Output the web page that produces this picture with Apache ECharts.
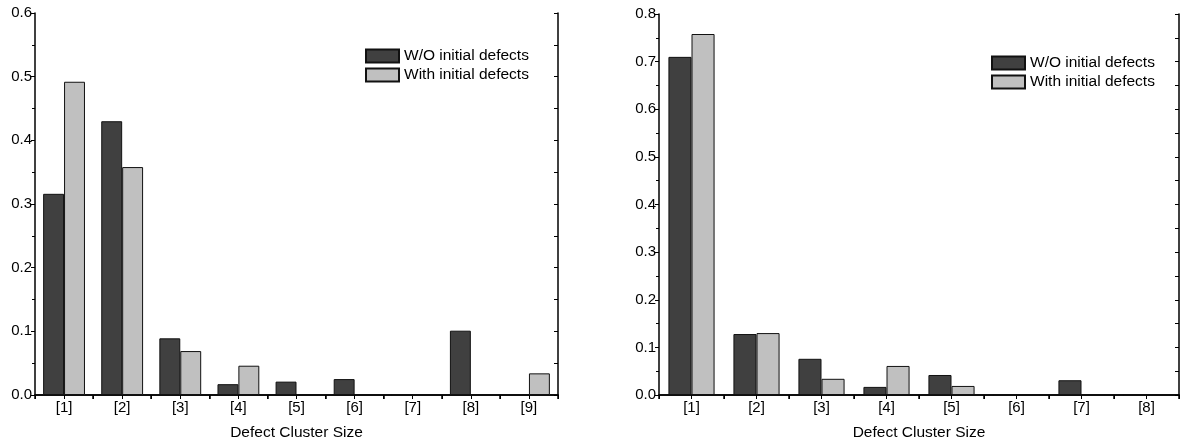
<!DOCTYPE html>
<html>
<head>
<meta charset="utf-8">
<script src="https://cdn.jsdelivr.net/npm/echarts@6/dist/echarts.min.js"></script>
<style>
html, body { margin: 0; padding: 0; background: #fff; }
#main { width: 1183px; height: 443px; }
</style>
</head>
<body>
<div id="main"></div>
<script>
// 左图数据
var leftSizes = ['[1]', '[2]', '[3]', '[4]', '[5]', '[6]', '[7]', '[8]', '[9]']
var leftWithout = [0.316, 0.430, 0.089, 0.017, 0.021, 0.025, 0, 0.101, 0]
var leftWith = [0.492, 0.358, 0.069, 0.046, 0, 0, 0, 0, 0.034]

// 右图数据
var rightSizes = ['[1]', '[2]', '[3]', '[4]', '[5]', '[6]', '[7]', '[8]']
var rightWithout = [0.710, 0.128, 0.076, 0.017, 0.042, 0, 0.031, 0]
var rightWith = [0.758, 0.130, 0.034, 0.061, 0.019, 0, 0, 0]

var seriesNames = ['W/O initial defects', 'With initial defects']
var axisName = 'Defect Cluster Size'
var leftMax = 0.6
var rightMax = 0.8

var font = 'Liberation Sans, Arial, sans-serif'
var black = '#000'

var bottomAxis = function(grid, cats) {
    return {
        gridIndex: grid,
        type: 'category',
        position: 'bottom',
        data: cats,
        axisLine: { show: true, lineStyle: { color: black, width: 1.5 } },
        axisTick: { show: true, length: 4, lineStyle: { color: black, width: 1.5 } },
        axisLabel: { color: black, fontSize: 15, fontFamily: font, margin: 5 },
        splitLine: { show: false },
        name: axisName,
        nameLocation: 'middle',
        nameGap: 30,
        nameTextStyle: { color: black, fontSize: 15.5, fontFamily: font }
    }
}

var topAxis = function(grid, n) {
    return {
        gridIndex: grid,
        type: 'value',
        position: 'top',
        min: 0,
        max: n,
        interval: 0.5,
        axisLine: { show: true, lineStyle: { color: black, width: 1.5 } },
        axisTick: { show: true, inside: true, length: 4, lineStyle: { color: black } },
        axisLabel: { show: false },
        splitLine: { show: false }
    }
}

var leftAxis = function(grid, max) {
    return {
        gridIndex: grid,
        type: 'value',
        position: 'left',
        min: 0,
        max: max,
        interval: 0.1,
        axisLine: { show: true, lineStyle: { color: black, width: 1.5 } },
        axisTick: { show: true, length: 4, lineStyle: { color: black } },
        minorTick: { show: true, splitNumber: 2, length: 3, lineStyle: { color: black } },
        axisLabel: {
            color: black, fontSize: 15, fontFamily: font, margin: 3,
            formatter: function(v) { return v.toFixed(1) }
        },
        splitLine: { show: false }
    }
}

var rightAxis = function(grid, max) {
    return {
        gridIndex: grid,
        type: 'value',
        position: 'right',
        min: 0,
        max: max,
        interval: 0.05,
        axisLine: { show: true, lineStyle: { color: black, width: 1.5 } },
        axisTick: { show: true, inside: true, length: 4, lineStyle: { color: black } },
        axisLabel: { show: false },
        splitLine: { show: false }
    }
}

var barSeries = function(name, data, grid, color, gap) {
    return {
        name: name,
        type: 'bar',
        xAxisIndex: grid * 2,
        yAxisIndex: grid * 2,
        data: data,
        barGap: '0%',
        barCategoryGap: gap,
        itemStyle: { color: color, borderColor: '#111', borderWidth: 1 }
    }
}

var legendAt = function(left, top) {
    return {
        orient: 'vertical',
        left: left,
        top: top,
        padding: 0,
        itemGap: 3,
        itemWidth: 33,
        itemHeight: 13,
        icon: 'rect',
        data: seriesNames,
        textStyle: { color: black, fontSize: 15.5, fontFamily: font, lineHeight: 13 }
    }
}

var mychart = echarts.init(document.getElementById('main'))
mychart.setOption({
    animation: false,
    backgroundColor: '#fff',
    grid: [
        { left: 35, top: 13, width: 523, height: 382, containLabel: false, outerBoundsMode: 'none' },
        { left: 659, top: 14, width: 520, height: 381, containLabel: false, outerBoundsMode: 'none' }
    ],
    legend: [legendAt(365, 48), legendAt(991, 55)],
    xAxis: [
        bottomAxis(0, leftSizes), topAxis(0, leftSizes.length),
        bottomAxis(1, rightSizes), topAxis(1, rightSizes.length)
    ],
    yAxis: [
        leftAxis(0, leftMax), rightAxis(0, leftMax),
        leftAxis(1, rightMax), rightAxis(1, rightMax)
    ],
    series: [
        barSeries(seriesNames[0], leftWithout, 0, '#404040', '28%'),
        barSeries(seriesNames[1], leftWith, 0, '#c0c0c0', '28%'),
        barSeries(seriesNames[0], rightWithout, 1, '#404040', '29%'),
        barSeries(seriesNames[1], rightWith, 1, '#c0c0c0', '29%')
    ]
})
</script>
</body>
</html>
